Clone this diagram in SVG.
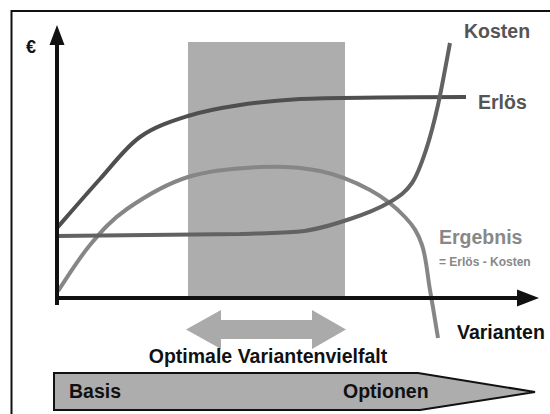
<svg xmlns="http://www.w3.org/2000/svg" width="550" height="414" viewBox="0 0 550 414">
  <style>
    text { font-family: "Liberation Sans", Arial, sans-serif; font-weight: bold; }
    .curve { fill: none; stroke-width: 4; stroke-linecap: butt; stroke-linejoin: round; }
    .axis { stroke: #111; stroke-width: 4; fill: none; }
    .head { fill: #111; }
  </style>
  <rect x="0" y="0" width="550" height="414" fill="#fff"/>
  <!-- outer frame (runs past the right and bottom edges) -->
  <rect x="11.5" y="11" width="560" height="420" fill="none" stroke="#111" stroke-width="2"/>

  <!-- optimal range band -->
  <rect id="band" x="188" y="42" width="157" height="256" fill="#adadad"/>

  <g id="curves">
    <path id="ergebnis-curve" class="curve" stroke="#868686"
      d="M58,291 C63.3,283.3 78.5,258.7 90,245 C101.5,231.3 110.7,220.3 127,209 C143.3,197.7 165.8,184 188,177 C210.2,170 238,168 260,167 C282,166 301.7,167.2 320,171 C338.3,174.8 355.8,182.3 370,190 C384.2,197.7 396.3,207.8 405,217 C413.7,226.2 417.8,232.8 422,245 C426.2,257.2 427.3,274.5 430,290 C432.7,305.5 436.7,330 438,338"/>
    <path id="erloes-curve" class="curve" stroke="#4f4f4f"
      d="M57,228 C64.2,219.8 86.2,194.2 100,179 C113.8,163.8 125.3,147.5 140,137 C154.7,126.5 171.3,121.3 188,116 C204.7,110.7 221.3,107.8 240,105 C258.7,102.2 276.7,100.25 300,99 C323.3,97.75 352.3,97.8 380,97.5 C407.7,97.2 451.7,97.1 466,97"/>
    <path id="kosten-curve" class="curve" stroke="#626262"
      d="M57,236 L240,234 C260,233.2 281.7,233.2 300,231.5 C318.3,229.8 335,223.9 350,219 C365,214.1 379.7,208 390,202 C400.3,196 406,191.7 412,183 C418,174.3 421.7,163 426,150 C430.3,137 434,122.8 438,105 C442,87.2 448,53.3 450,43"/>
  </g>

  <g id="axes">
    <line class="axis" x1="57" y1="305" x2="57" y2="44"/>
    <polygon class="head" points="57,25 49.5,45 64.5,45"/>
    <line class="axis" x1="55" y1="298" x2="519" y2="298"/>
    <polygon class="head" points="539,298 517,289.5 517,306.5"/>
  </g>

  <g id="labels">
    <text x="26" y="53" font-size="18" fill="#111">€</text>
    <text x="464" y="37.5" font-size="19.5" fill="#555">Kosten</text>
    <text x="478" y="109" font-size="19.5" fill="#555">Erlös</text>
    <text x="439" y="244" font-size="19.5" fill="#888">Ergebnis</text>
    <text x="439" y="266" font-size="12" fill="#888">= Erlös - Kosten</text>
    <text x="457" y="339" font-size="19.5" fill="#111">Varianten</text>
  </g>

  <!-- double arrow under the band -->
  <g id="range-arrow">
    <polygon fill="#aaaaaa" points="186,329.5 221,310 221,320 312,320 312,310 346,329.5 312,349 312,339 221,339 221,349"/>
    <text x="268" y="363" font-size="19.5" fill="#111" text-anchor="middle">Optimale Variantenvielfalt</text>
  </g>

  <g id="scale-arrow">
    <polygon points="54,373 418,373 535,392 420,410 54,410" fill="#adadad" stroke="#111" stroke-width="2" stroke-linejoin="miter"/>
    <text x="69" y="398" font-size="19.5" fill="#111">Basis</text>
    <text x="343" y="398" font-size="19.5" fill="#111">Optionen</text>
  </g>
</svg>
